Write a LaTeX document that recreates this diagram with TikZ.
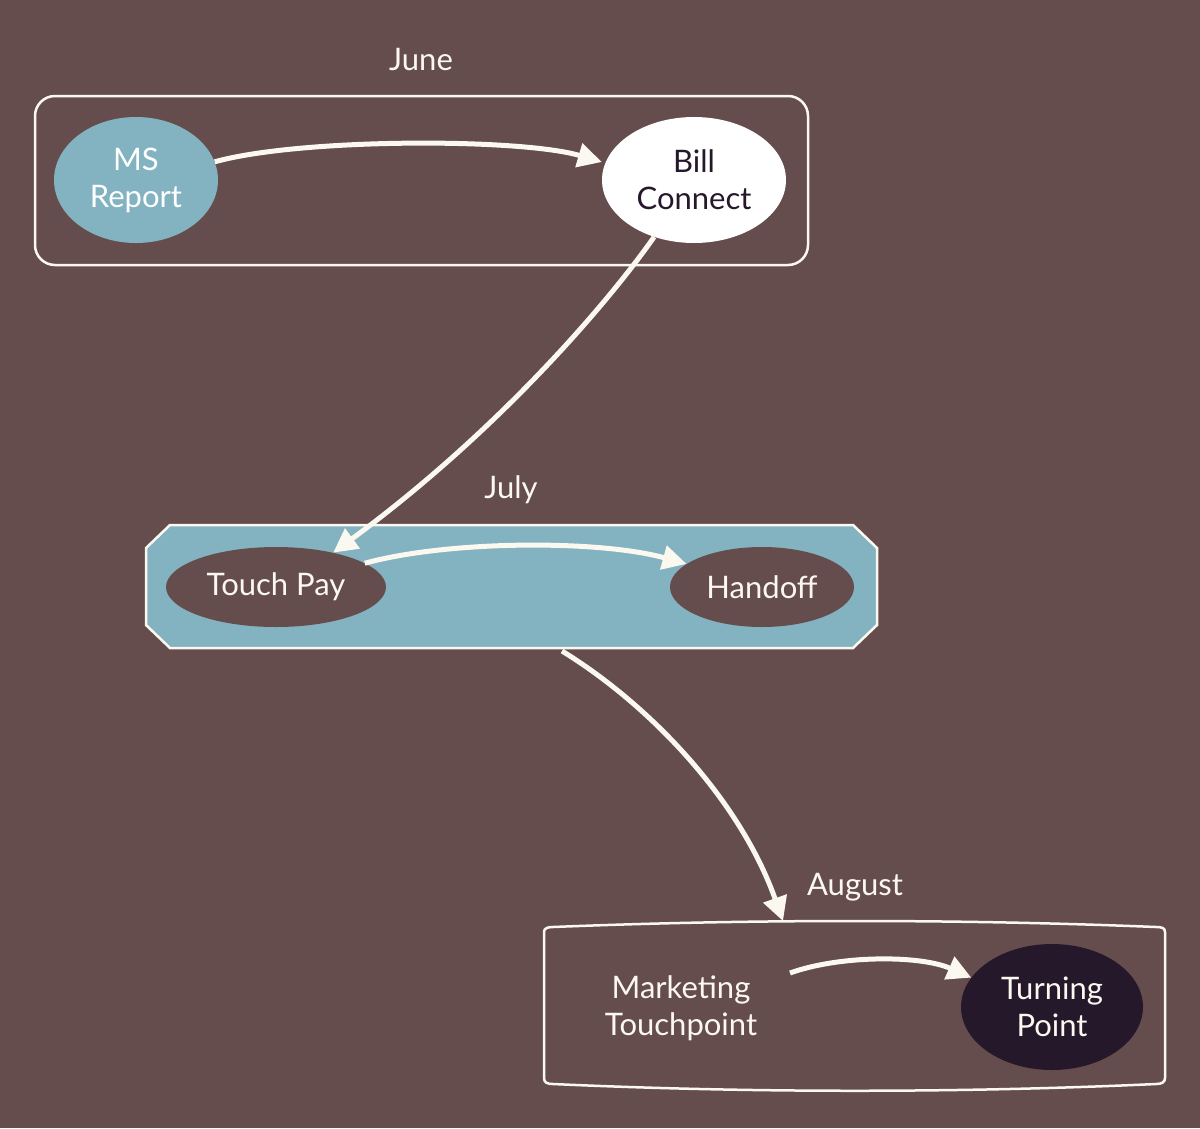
\documentclass[tikz,border=0pt]{standalone}
\usepackage{fontspec}
\setmainfont{Lato}
\usetikzlibrary{arrows.meta,shapes.geometric}
\definecolor{bg}{HTML}{664D4D}
\definecolor{teal}{HTML}{83B3C1}
\definecolor{ink}{HTML}{26182B}
\definecolor{chalk}{HTML}{FBF8F0}
\tikzset{
  every node/.style={font=\fontsize{31}{37}\selectfont},
  cluster/.style={draw=chalk, line width=2.5pt},
  blob/.style={ellipse, inner sep=0pt, align=center},
  flow/.style={draw=chalk, line width=5pt, -{Triangle[length=24pt,width=24pt]}},
  lbl/.style={text=chalk}
}
\begin{document}
\begin{tikzpicture}[x=1pt,y=-1pt]
\fill[bg] (0,0) rectangle (1200,1128);
\useasboundingbox (0,0) rectangle (1200,1128);
% clusters
\node[cluster, rounded corners=20pt, minimum width=773pt, minimum height=169pt, inner sep=0pt] (june) at (421.5,180.5) {};
\node[lbl] (junelbl) at (421,60) {June};
\draw[cluster, fill=teal] (170,525) -- (853,525) -- (877,548) -- (877,625) -- (853,648)
  -- (170,648) -- (146,625) -- (146,548) -- cycle;
\node[lbl] (julylbl) at (511,490) {July};
\draw[cluster] (544,932) -- (544,1078) .. controls (544,1083) and (548,1084) .. (553,1084)
  .. controls (750,1093) and (960,1093) .. (1156,1084)
  .. controls (1162,1084) and (1165,1082) .. (1165,1078) -- (1165,932)
  .. controls (1165,928) and (1162,927) .. (1156,927)
  .. controls (960,919) and (750,919) .. (553,927)
  .. controls (548,927) and (544,928) .. (544,932) -- cycle;
\node[lbl] (auglbl) at (855,887) {August};
% nodes
\node[blob, fill=teal, text=white, minimum width=164pt, minimum height=126pt] (ms) at (136,180) {MS\\Report};
\node[blob, fill=white, text=ink, minimum width=184pt, minimum height=126pt] (bill) at (694,180) {Bill\\Connect};
\node[blob, fill=bg, text=chalk, minimum width=220pt, minimum height=80pt] (touch) at (276,587) {Touch Pay};
\node[blob, fill=bg, text=chalk, minimum width=184pt, minimum height=80pt] (hand) at (762,587) {Handoff};
\node[align=center, text=chalk, inner sep=0pt] (mkt) at (681,1008) {Marketing\\Touchpoint};
\node[blob, fill=ink, text=chalk, minimum width=182pt, minimum height=126pt] (turn) at (1052,1007) {Turning\\Point};
% anchor coordinates
\coordinate (julyout) at (562,651);
\coordinate (augin) at (783,921);
\coordinate (mktout) at (790,973);
% edges
\draw[flow] (ms.13) .. controls (300,138) and (520,138) .. (bill.west|-0,162);
\draw[flow] (bill.-125) .. controls (610,300) and (500,430) .. (touch.31);
\draw[flow] (touch.15) .. controls (450,540) and (600,540) .. (hand.163);
\draw[flow] (julyout) .. controls (650,705) and (740,800) .. (augin);
\draw[flow] (mktout) .. controls (840,955) and (920,955) .. (turn.160);
\end{tikzpicture}
\end{document}
